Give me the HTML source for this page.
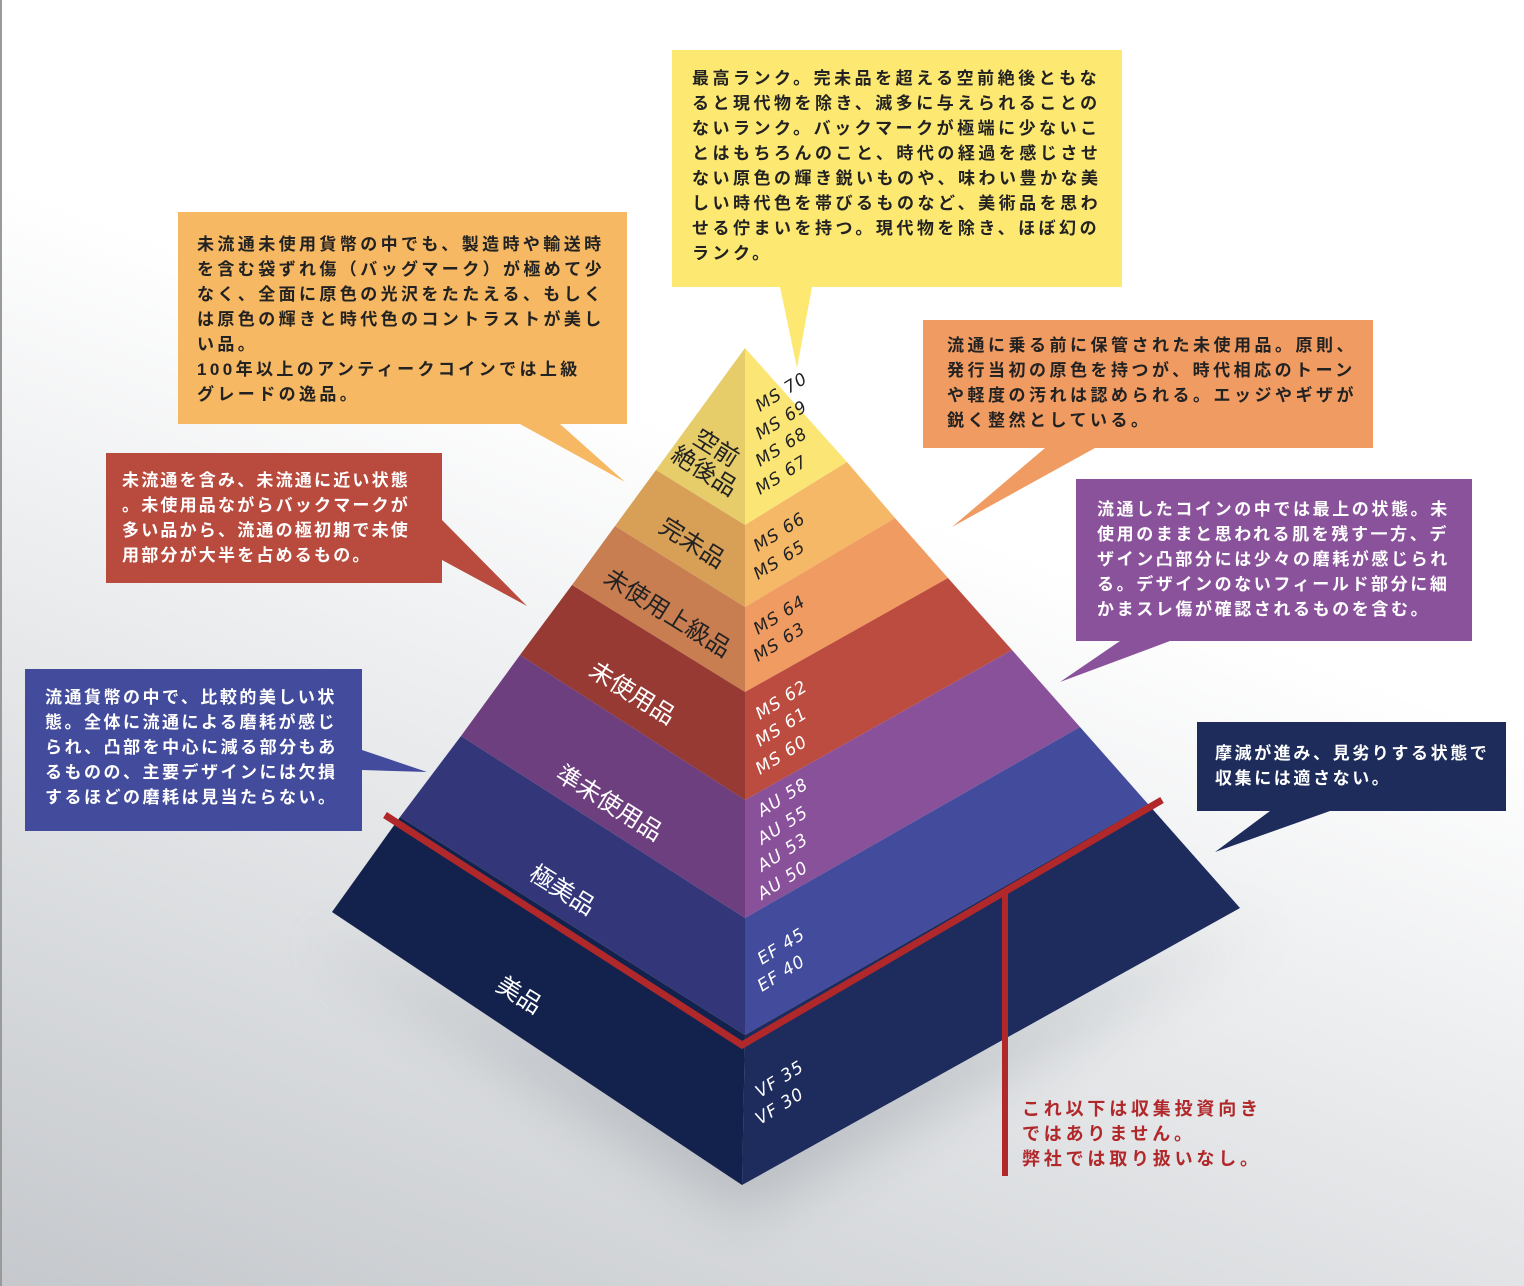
<!DOCTYPE html>
<html><head><meta charset="utf-8">
<style>
html,body{margin:0;padding:0}
body{width:1524px;height:1286px;position:relative;overflow:hidden;
background:linear-gradient(200deg,#ffffff 0%,#ffffff 40%,#e6e8ea 65%,#c5c8cc 100%);
font-family:"Liberation Sans","Noto Sans CJK JP",sans-serif;}
.b{position:absolute;white-space:pre;font-size:17px;line-height:25px;font-weight:bold}
svg{position:absolute;left:0;top:0}
</style></head><body>
<div style="position:absolute;left:0;top:0;width:2px;height:1286px;background:#9a9a9a"></div>
<svg width="1524" height="1286" viewBox="0 0 1524 1286">
<defs>
<filter id="bl" x="-50%" y="-50%" width="200%" height="200%"><feGaussianBlur stdDeviation="30"/></filter>
</defs>
<polygon points="300,930 742,1215 1270,920 742,1120" fill="#8f959c" opacity="0.45" filter="url(#bl)"/>
<!-- callout boxes -->
<polygon points="672,50 1122,50 1122,287 812,287 797,368 780,287 672,287" fill="#fde872"/>
<polygon points="178,212 627,212 627,424 560,424 625,482 520,424 178,424" fill="#f6b862"/>
<polygon points="106,453 442,453 442,520 527,606 442,560 442,583 106,583" fill="#b94b3e"/>
<polygon points="25,669 362,669 362,750 427,772 362,770 362,831 25,831" fill="#434b9c"/>
<polygon points="923,320 1373,320 1373,448 1095,448 952,527 1045,448 923,448" fill="#f09b62"/>
<polygon points="1076,479 1472,479 1472,641 1170,641 1060,682 1120,641 1076,641" fill="#8b529c"/>
<polygon points="1197,722 1506,722 1506,811 1330,811 1215,852 1270,811 1197,811" fill="#1e2c5c"/>
<!-- left face -->
<polygon points="745,348 656,470 745,525" fill="#e6cd6a"/>
<polygon points="656,470 615,526 745,607 745,525" fill="#d8a056"/>
<polygon points="615,526 572,585 745,692 745,607" fill="#c97e52"/>
<polygon points="572,585 520,655 745,800 745,692" fill="#963a33"/>
<polygon points="520,655 461,736 745,918 745,800" fill="#6e3f7e"/>
<polygon points="461,736 400,817 745,1035 745,918" fill="#33377a"/>
<polygon points="400,817 332,912 742,1185 745,1035" fill="#12224d"/>
<!-- right face -->
<polygon points="745,348 847,462 745,525" fill="#fbe574"/>
<polygon points="847,462 895,518 745,607 745,525" fill="#f5b866"/>
<polygon points="895,518 948,578 745,692 745,607" fill="#f09b62"/>
<polygon points="948,578 1012,650 745,800 745,692" fill="#bc4c3f"/>
<polygon points="1012,650 1080,727 745,918 745,800" fill="#8a519b"/>
<polygon points="1080,727 1148,804 745,1035 745,918" fill="#434b9c"/>
<polygon points="1148,804 1240,908 742,1185 745,1035" fill="#1d2b5d"/>
<!-- red lines -->
<polyline points="385,815 742,1045 1162,800" fill="none" stroke="#b1282b" stroke-width="7" stroke-linejoin="miter"/>
<line x1="1005" y1="890" x2="1005" y2="1176" stroke="#b1282b" stroke-width="6"/>
<!-- left labels -->
<g font-family="Liberation Sans,Noto Sans CJK JP,sans-serif" font-size="24" text-anchor="middle">
<text transform="translate(712,455) rotate(32)" fill="#222">空前</text>
<text transform="translate(700,478) rotate(32)" fill="#222">絶後品</text>
<text transform="translate(688,550) rotate(32)" fill="#222">完未品</text>
<text transform="translate(663,620) rotate(32)" fill="#222">未使用上級品</text>
<text transform="translate(628,700) rotate(32)" fill="#fff">未使用品</text>
<text transform="translate(605,810) rotate(32)" fill="#fff">準未使用品</text>
<text transform="translate(558,897) rotate(32)" fill="#fff">極美品</text>
<text transform="translate(515,1002) rotate(32)" fill="#fff">美品</text>
</g>
<g font-family="DejaVu Sans,sans-serif" font-size="17" font-style="italic" letter-spacing="1">
<g fill="#222">
<text transform="translate(760,412) rotate(-32)">MS 70</text>
<text transform="translate(760,440) rotate(-32)">MS 69</text>
<text transform="translate(760,467) rotate(-32)">MS 68</text>
<text transform="translate(760,495) rotate(-32)">MS 67</text>
<text transform="translate(758,552) rotate(-32)">MS 66</text>
<text transform="translate(758,580) rotate(-32)">MS 65</text>
<text transform="translate(758,635) rotate(-32)">MS 64</text>
<text transform="translate(758,662) rotate(-32)">MS 63</text>
</g>
<g fill="#fff">
<text transform="translate(760,720) rotate(-32)">MS 62</text>
<text transform="translate(760,747) rotate(-32)">MS 61</text>
<text transform="translate(760,775) rotate(-32)">MS 60</text>
<text transform="translate(762,817) rotate(-32)">AU 58</text>
<text transform="translate(762,845) rotate(-32)">AU 55</text>
<text transform="translate(762,872) rotate(-32)">AU 53</text>
<text transform="translate(762,900) rotate(-32)">AU 50</text>
<text transform="translate(762,965) rotate(-32)">EF 45</text>
<text transform="translate(762,992) rotate(-32)">EF 40</text>
<text transform="translate(760,1098) rotate(-32)">VF 35</text>
<text transform="translate(760,1125) rotate(-32)">VF 30</text>
</g>
</g>
</svg>
<div class="b" style="left:692px;top:66px;letter-spacing:3.5px;color:#222">最高ランク。完未品を超える空前絶後ともな
ると現代物を除き、滅多に与えられることの
ないランク。バックマークが極端に少ないこ
とはもちろんのこと、時代の経過を感じさせ
ない原色の輝き鋭いものや、味わい豊かな美
しい時代色を帯びるものなど、美術品を思わ
せる佇まいを持つ。現代物を除き、ほぼ幻の
ランク。</div>
<div class="b" style="left:197px;top:232px;letter-spacing:3.4px;color:#222">未流通未使用貨幣の中でも、製造時や輸送時
を含む袋ずれ傷（バッグマーク）が極めて少
なく、全面に原色の光沢をたたえる、もしく
は原色の輝きと時代色のコントラストが美し
い品。
100年以上のアンティークコインでは上級
グレードの逸品。</div>
<div class="b" style="left:122px;top:468px;letter-spacing:2.2px;color:#fff">未流通を含み、未流通に近い状態
。未使用品ながらバックマークが
多い品から、流通の極初期で未使
用部分が大半を占めるもの。</div>
<div class="b" style="left:45px;top:685px;letter-spacing:2.5px;color:#fff">流通貨幣の中で、比較的美しい状
態。全体に流通による磨耗が感じ
られ、凸部を中心に減る部分もあ
るものの、主要デザインには欠損
するほどの磨耗は見当たらない。</div>
<div class="b" style="left:947px;top:333px;letter-spacing:3.5px;color:#222">流通に乗る前に保管された未使用品。原則、
発行当初の原色を持つが、時代相応のトーン
や軽度の汚れは認められる。エッジやギザが
鋭く整然としている。</div>
<div class="b" style="left:1097px;top:497px;letter-spacing:2.6px;color:#fff">流通したコインの中では最上の状態。未
使用のままと思われる肌を残す一方、デ
ザイン凸部分には少々の磨耗が感じられ
る。デザインのないフィールド部分に細
かまスレ傷が確認されるものを含む。</div>
<div class="b" style="left:1215px;top:741px;letter-spacing:2.6px;color:#fff">摩滅が進み、見劣りする状態で
収集には適さない。</div>
<div class="b" style="left:1022px;top:1097px;font-size:18px;letter-spacing:3.8px;color:#b1282b">これ以下は収集投資向き
ではありません。
弊社では取り扱いなし。</div>
</body></html>
